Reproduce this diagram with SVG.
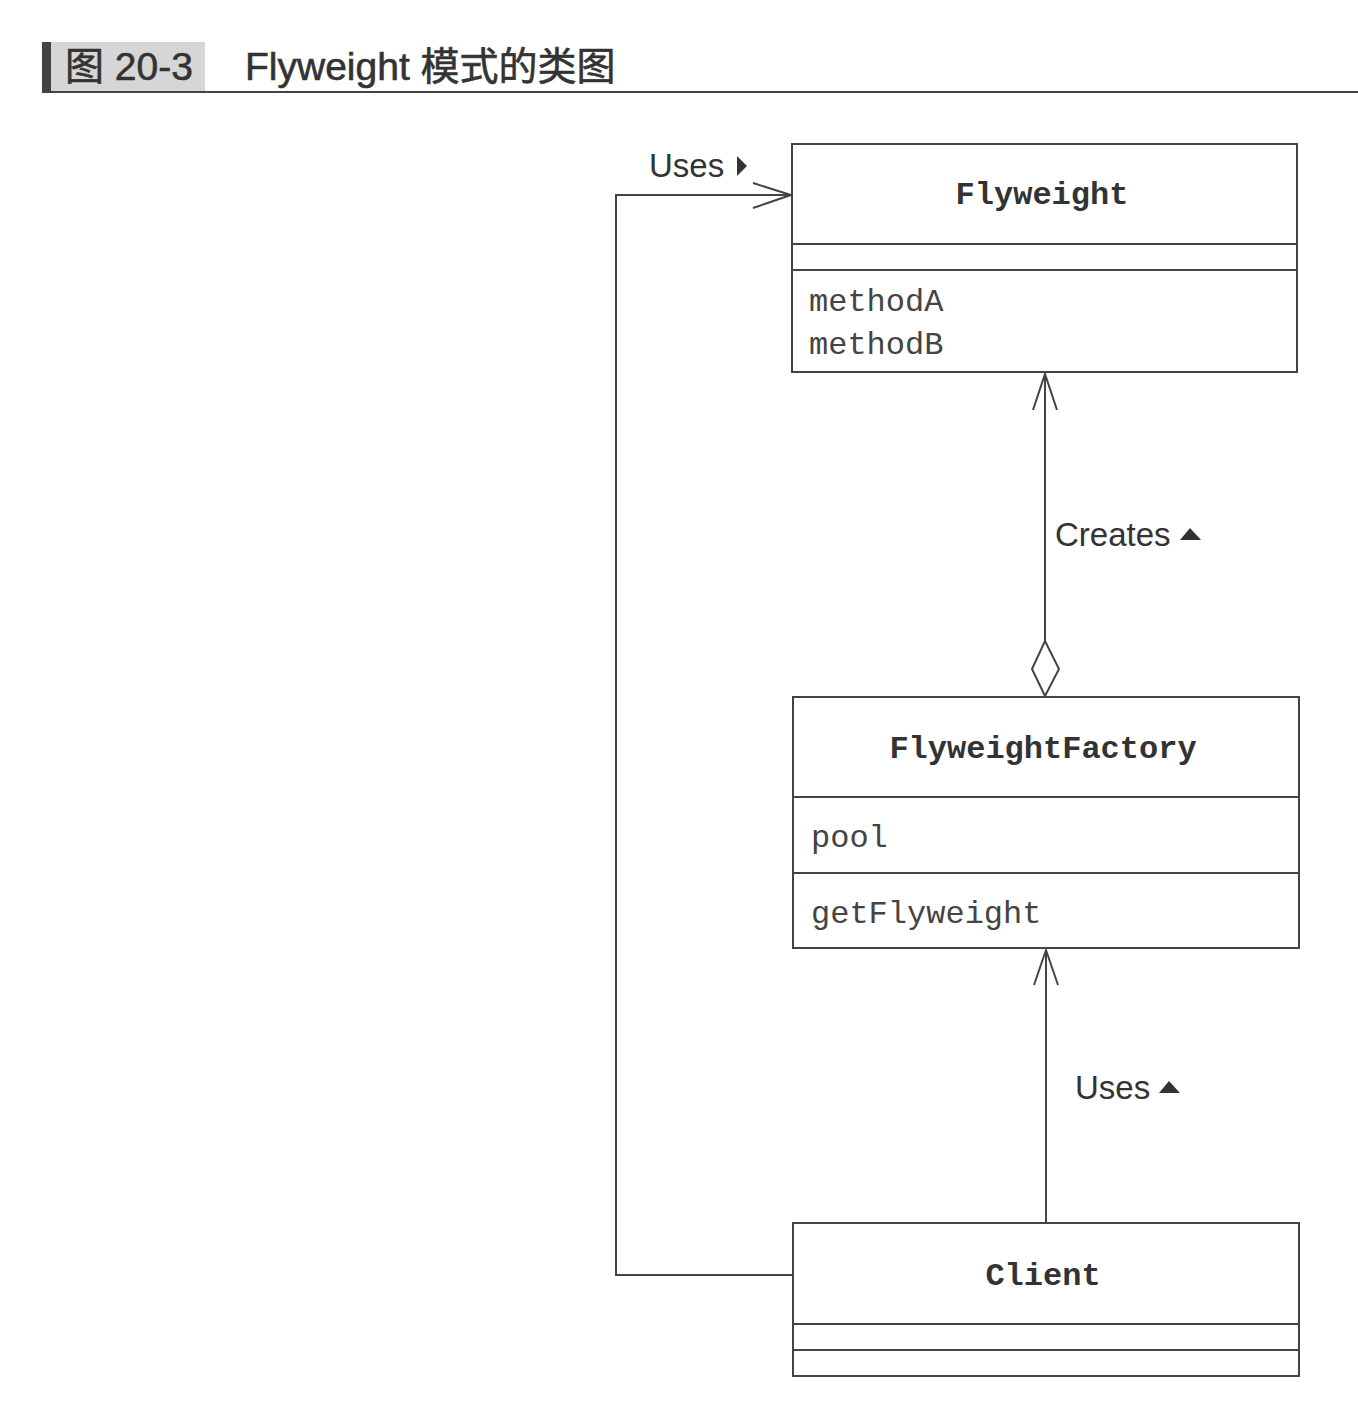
<svg xmlns="http://www.w3.org/2000/svg" width="1358" height="1405" viewBox="0 0 1358 1405">
<style>
.box{fill:#fff;stroke:#444;stroke-width:2}
.div{stroke:#444;stroke-width:2}
.ttl{font-family:"Liberation Mono",monospace;font-weight:bold;font-size:32px;fill:#333;text-anchor:middle}
.mem{font-family:"Liberation Mono",monospace;font-size:32px;fill:#444}
.lbl{font-family:"Liberation Sans",Arial,sans-serif;font-size:33px;fill:#333}
.ln{fill:none;stroke:#444;stroke-width:2}
.tri{fill:#333}
.hd{font-family:"Liberation Sans","Noto Sans CJK SC",sans-serif;font-size:39px;fill:#333;stroke:#333;stroke-width:0.6}
</style>
<rect width="1358" height="1405" fill="#fff"/>
<g id="header">
<rect x="42" y="42" width="9" height="50" fill="#444"/>
<rect x="51" y="42" width="154" height="50" fill="#d6d6d6"/>
<text class="hd" x="65" y="80">图 20-3</text>
<text class="hd" x="245" y="80">Flyweight 模式的类图</text>
<line x1="42" y1="92" x2="1358" y2="92" stroke="#444" stroke-width="2"/>
</g>
<g id="connectors">
<polyline class="ln" points="793,1275 616,1275 616,195 791,195"/>
<polyline class="ln" points="753,183 791,195 753,208"/>
<line class="ln" x1="1045" y1="374" x2="1045" y2="641"/>
<polyline class="ln" points="1033,410 1045,374 1057,410"/>
<polygon points="1045,641 1059,669 1045,696 1032,669" fill="#fff" stroke="#444" stroke-width="2"/>
<line class="ln" x1="1046" y1="950" x2="1046" y2="1223"/>
<polyline class="ln" points="1034,985 1046,950 1058,985"/>
<text class="lbl" x="649" y="177">Uses</text>
<polygon class="tri" points="737,156 747,166 737,176"/>
<text class="lbl" x="1055" y="546">Creates</text>
<polygon class="tri" points="1180,540 1190,528 1201,540"/>
<text class="lbl" x="1075" y="1099">Uses</text>
<polygon class="tri" points="1159,1093 1169,1081 1180,1093"/>
</g>
<g id="Flyweight">
<rect class="box" x="792" y="144" width="505" height="228"/>
<line class="div" x1="792" y1="244" x2="1297" y2="244"/>
<line class="div" x1="792" y1="270" x2="1297" y2="270"/>
<text class="ttl" x="1042" y="204">Flyweight</text>
<text class="mem" x="809" y="311">methodA</text>
<text class="mem" x="809" y="354">methodB</text>
</g>
<g id="FlyweightFactory">
<rect class="box" x="793" y="697" width="506" height="251"/>
<line class="div" x1="793" y1="797" x2="1299" y2="797"/>
<line class="div" x1="793" y1="873" x2="1299" y2="873"/>
<text class="ttl" x="1043" y="758">FlyweightFactory</text>
<text class="mem" x="811" y="847">pool</text>
<text class="mem" x="811" y="923">getFlyweight</text>
</g>
<g id="Client">
<rect class="box" x="793" y="1223" width="506" height="153"/>
<line class="div" x1="793" y1="1324" x2="1299" y2="1324"/>
<line class="div" x1="793" y1="1350" x2="1299" y2="1350"/>
<text class="ttl" x="1043" y="1285">Client</text>
</g>
</svg>
